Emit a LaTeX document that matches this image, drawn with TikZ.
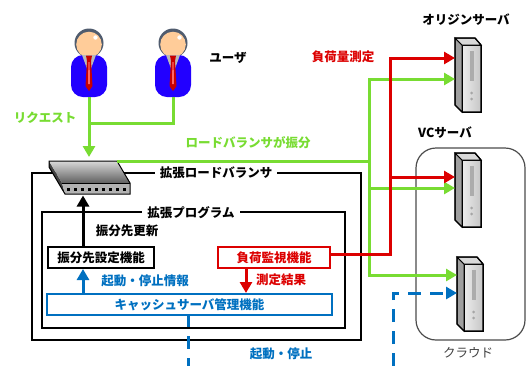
\documentclass[tikz,border=0pt]{standalone}
\usepackage{fontspec}
\newfontfamily\jp{Noto Sans CJK JP}
\usetikzlibrary{arrows.meta,calc}

\definecolor{lbgreen}{RGB}{120,220,50}
\definecolor{lbred}{RGB}{220,0,0}
\definecolor{lbblue}{RGB}{0,112,192}
\definecolor{suit}{RGB}{34,0,255}
\definecolor{skin}{RGB}{255,204,153}
\definecolor{hair}{RGB}{80,92,110}
\definecolor{tie}{RGB}{200,0,0}

\tikzset{
  lbl/.style={inner sep=0pt, font=\jp\bfseries\fontsize{12.5}{14}\selectfont},
  tip/.style={-{Triangle[length=11pt,width=12pt]}},
  gline/.style={draw=lbgreen, line width=3pt},
  rline/.style={draw=lbred, line width=3pt},
  bline/.style={draw=lbblue, line width=3pt},
  kline/.style={draw=black, line width=3pt},
  frame/.style={draw=black, line width=2pt},
  funcbox/.style={lbl, line width=2pt, minimum height=21pt, anchor=north west},
  srvbox/.style={inner sep=0pt, minimum width=26pt, minimum height=74pt, anchor=north west},
}

% a user figure centred on x = #2
\newcommand\userfig[2]{%
  \begin{scope}[shift={(#2,0)}]
    \fill[hair] (0,43) circle (14.5);
    \fill[skin] (0,44.5) circle (12.8);
    \fill[white] (6.5,37.5) circle (2.2);
    \fill[suit, rounded corners=12pt] (-18,55) -- (18,55) -- (18,97) -- (-18,97) -- cycle;
    \fill[gray!55] (-7,55) -- (7,55) -- (0,74) -- cycle;
    \fill[tie] (-3,55.5) -- (3,55.5) -- (2,61) -- (-2,61) -- cycle;
    \fill[tie] (-2,61) -- (2,61) -- (3.5,86) -- (0,91) -- (-3.5,86) -- cycle;
    \fill[red!60!white] (-0.6,62) -- (0.6,62) -- (1,84) -- (-1,84) -- cycle;
    \node[inner sep=0pt, minimum width=36pt, minimum height=42pt] (#1) at (0,76) {};
  \end{scope}}

% a tower server with its top-left corner at (#2,#3)
\newcommand\towerserver[3]{%
  \begin{scope}[shift={(#2,#3)}]
    \filldraw[fill=gray!75, draw=black, line width=1pt] (0,0) -- (7,7) -- (7,74) -- (0,67) -- cycle;
    \filldraw[draw=black, line width=1pt, left color=gray!15, right color=gray!45] (7,7) rectangle (26,74);
    \filldraw[fill=gray!30, draw=black, line width=1pt] (0,0) -- (20,0) -- (26,7) -- (7,7) -- cycle;
    \fill[gray!65] (15,13) rectangle (18.5,43);
    \fill[gray!70] (16.7,55) circle (1.5);
    \fill[gray!70] (16.7,61) circle (1.5);
    \draw[black, line width=1.3pt] (0,0) -- (20,0) -- (26,7) -- (26,74) -- (7,74) -- (0,67) -- cycle;
  \end{scope}
  \node[srvbox] (#1) at (#2,#3) {};}

\begin{document}
\begin{tikzpicture}[x=1pt, y=-1pt]
\useasboundingbox (0,0) rectangle (526,365);

% ---------------- cloud region ----------------
\draw[draw=black!70, line width=1.2pt, rounded corners=20pt] (416,148) rectangle (525,340);
\node[lbl, font=\jp\fontsize{12.5}{14}\selectfont, text=black!75] (cloudlbl) at (468,353) {クラウド};

% ---------------- users ----------------
\userfig{userA}{89}
\userfig{userB}{173}
\node[lbl] (userlbl) at (228,58) {ユーザ};

% ---------------- servers ----------------
\towerserver{origin}{455}{38}
\towerserver{vcsrv}{455}{153}
\towerserver{cloudsrv}{457}{257}
\node[lbl] (originlbl) at (466,20) {オリジンサーバ};
\node[lbl] (vclbl) at (445,133) {VCサーバ};

% ---------------- extended load balancer frames ----------------
\draw[frame] (32,173) rectangle (361,340);
\node[lbl, fill=white, inner xsep=5pt, inner ysep=2pt] (lbname) at (216,173) {拡張ロードバランサ};
\draw[frame] (42,212) rectangle (345,328);
\node[lbl, fill=white, inner xsep=5pt, inner ysep=2pt] (progname) at (191,213) {拡張プログラム};

% ---------------- load balancer device ----------------
\fill[black!75] (49,161) -- (62,183) -- (65,194) -- (49,167) -- cycle;
\shade[top color=gray!30, bottom color=gray!75!black] (49,161) -- (117,161) -- (130,183) -- (62,183) -- cycle;
\fill[gray!60] (62,183) -- (130,183) -- (130,194) -- (65,194) -- cycle;
\draw[black, line width=1pt] (49,161) -- (117,161) -- (130,183) -- (130,194) -- (65,194) -- (49,167) -- cycle;
\draw[black, line width=0.6pt] (62,183) -- (130,183);
\foreach \i in {0,...,8} \fill[black] ({66.5+7.1*\i},187.5) rectangle ++(3,3);
\node[inner sep=0pt, minimum width=81pt, minimum height=33pt] (lb) at (89.5,177.5) {};

% ---------------- function boxes ----------------
\node[funcbox, draw=black, minimum width=106pt] (setter) at (47,246) {振分先設定機能};
\node[funcbox, draw=lbred, text=lbred, minimum width=112pt] (monitor) at (217,246) {負荷監視機能};
\node[funcbox, draw=lbblue, text=lbblue, minimum width=285pt] (cachemgr) at (46,293) {キャッシュサーバ管理機能};

% ---------------- connection points ----------------
\coordinate (uAbot) at (89,97);
\coordinate (uBbot) at (173,97);
\coordinate (ujoin) at (89,123);
\coordinate (lbin) at (89,157);
\coordinate (lbout) at (117,161.5);
\coordinate (gsplit) at (369,161.5);
\coordinate (gtop) at (369,79);
\coordinate (gbot) at (369,275);
\coordinate (gvc) at (369,188);
\coordinate (originG) at (455,79);
\coordinate (vcG) at (455,188);
\coordinate (cloudG) at (457,275);
\coordinate (rcorner) at (390,254.5);
\coordinate (rtop) at (390,58);
\coordinate (rvc) at (390,177);
\coordinate (originR) at (455,58);
\coordinate (vcR) at (455,177);
\coordinate (lbbottom) at (83,195.5);
\coordinate (cmbot) at (188,314);
\coordinate (cmout) at (188,366);
\coordinate (bstart) at (393,366);
\coordinate (bcorner) at (393,293);
\coordinate (cloudB) at (457,293);

% ---------------- green: requests and distribution ----------------
\draw[gline] (uBbot) |- (ujoin);
\draw[gline, tip] (uAbot) -- (lbin);
\draw[gline] (lbout) -- (gsplit);
\draw[gline, tip] (gsplit) -- (gtop) -- (originG);
\draw[gline, tip] (gsplit) -- (gvc) -- (vcG);
\draw[gline, tip] (gvc) -- (gbot) -- (cloudG);
\node[lbl, text=lbgreen] (reqlbl) at (45,118) {リクエスト};
\node[lbl, text=lbgreen] (distlbl) at (248,143) {ロードバランサが振分};

% ---------------- red: load measurement ----------------
\draw[rline] (monitor.east |- rcorner) -- (rcorner) -- (rvc);
\draw[rline, tip] (rvc) -- (rtop) -- (originR);
\draw[rline, tip] (rvc) -- (vcR);
\draw[rline, tip] (monitor.south -| 246,0) -- (cachemgr.north -| 246,0);
\node[lbl, text=lbred] (measurelbl) at (343,57) {負荷量測定};
\node[lbl, text=lbred] (resultlbl) at (281,280) {測定結果};

% ---------------- black: destination update ----------------
\draw[kline, tip] (setter.north -| lbbottom) -- (lbbottom);
\node[lbl] (updlbl) at (127,231) {振分先更新};

% ---------------- blue: start / stop ----------------
\draw[bline, tip] (cachemgr.north -| 83,0) -- (setter.south -| 83,0);
\node[lbl, text=lbblue] (infolbl) at (145,281) {起動・停止情報};
\draw[bline, dash pattern=on 13pt off 9pt] (cmbot) -- (cmout);
\draw[bline, dash pattern=on 13pt off 9pt, tip] (bstart) -- (bcorner) -- (cloudB);
\node[lbl, text=lbblue] (startlbl) at (281,354) {起動・停止};

\end{tikzpicture}
\end{document}
